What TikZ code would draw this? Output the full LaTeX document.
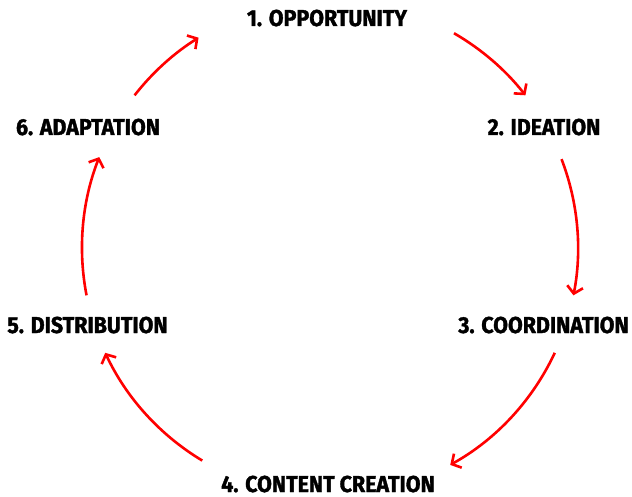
\documentclass[tikz,border=0pt]{standalone}
\usepackage{fontspec}
\setmainfont{Fira Sans}[UprightFont=* Bold, FakeStretch=0.93, FakeBold=1.5]
\usetikzlibrary{arrows.meta}
\definecolor{arrowred}{RGB}{255,0,0}
\tikzset{
  lbl/.style={inner sep=0pt, text height=16pt, text depth=0pt, font=\fontsize{23}{23}\selectfont, text=black},
  cyc/.style={draw=arrowred, line width=2.6pt, -{Straight Barb[length=7pt,width=16pt,line width=2.6pt]}}
}
\begin{document}
\begin{tikzpicture}[x=1pt,y=1pt]
\useasboundingbox (0,0) rectangle (632,496);
\coordinate (c) at (330,248);
\node[lbl] (n1) at (327,478) {1. OPPORTUNITY};
\node[lbl] (n2) at (544,369) {2. IDEATION};
\node[lbl] (n3) at (543.5,171) {3. COORDINATION};
\node[lbl] (n4) at (328,12) {4. CONTENT CREATION};
\node[lbl] (n5) at (87.5,171) {5. DISTRIBUTION};
\node[lbl] (n6) at (88,369) {6. ADAPTATION};
\draw[cyc] (c) ++(60:248) arc[start angle=60, end angle=38, radius=248];
\draw[cyc] (c) ++(21:248) arc[start angle=21, end angle=-11, radius=248];
\draw[cyc] (c) ++(-25:248) arc[start angle=-25, end angle=-61, radius=248];
\draw[cyc] (c) ++(-121:248) arc[start angle=-121, end angle=-155, radius=248];
\draw[cyc] (c) ++(-169:248) arc[start angle=-169, end angle=-201.5, radius=248];
\draw[cyc] (c) ++(142:248) arc[start angle=142, end angle=122, radius=248];
\end{tikzpicture}
\end{document}
